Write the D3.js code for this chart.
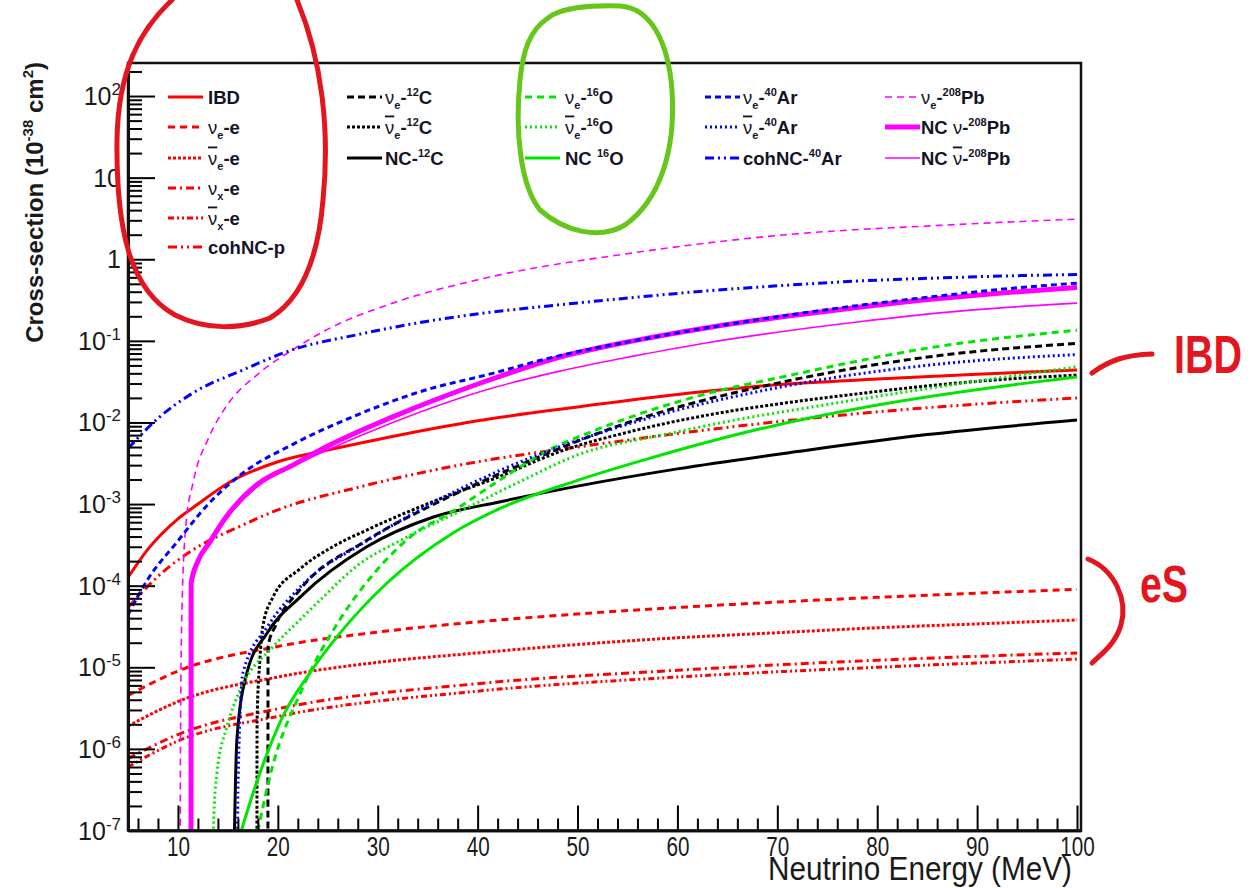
<!DOCTYPE html>
<html lang="en">
<head>
<meta charset="utf-8">
<title>Neutrino cross-sections</title>
<script src="https://cdn.jsdelivr.net/npm/d3@7"></script>
<style>
body { margin: 0; background: #fff; }
svg { display: block; font-family: "Liberation Sans", Arial, sans-serif; }
.narrow { font-family: "Liberation Sans Narrow", "Arial Narrow", "Liberation Sans", sans-serif; }
</style>
</head>
<body>
<svg width="1251" height="888"></svg>
<script>
// cross-sections in 1e-38 cm^2 vs neutrino energy in MeV
var ibd = [[5,1.26e-4],[7,2.8e-4],[10,6.6e-4],[12,1.0e-3],[15,1.8e-3],[20,3.3e-3],[25,4.6e-3],[30,6.2e-3],[40,1.05e-2],[50,1.55e-2],[60,2.2e-2],[70,2.9e-2],[80,3.4e-2],[90,3.9e-2],[100,4.4e-2]];
var nueE = [[5,4.5e-6],[10,9.0e-6],[20,1.8e-5],[30,2.7e-5],[40,3.6e-5],[50,4.5e-5],[60,5.4e-5],[70,6.3e-5],[80,7.2e-5],[90,8.1e-5],[100,9.0e-5]];
var nuebarE = [[5,1.9e-6],[10,3.8e-6],[20,7.6e-6],[30,1.15e-5],[40,1.5e-5],[50,1.9e-5],[60,2.3e-5],[70,2.65e-5],[80,3.05e-5],[90,3.4e-5],[100,3.8e-5]];
var nuxE = [[5,7.6e-7],[10,1.5e-6],[20,3.1e-6],[40,6.3e-6],[60,9.2e-6],[80,1.22e-5],[100,1.5e-5]];
var nuxbarE = [[5,6.0e-7],[10,1.25e-6],[20,2.5e-6],[40,5.1e-6],[60,7.6e-6],[80,1.0e-5],[100,1.26e-5]];
var cohP = [[5,5.4e-5],[8,1.3e-4],[12,3.0e-4],[16,5.2e-4],[20,8.5e-4],[28,1.6e-3],[40,3.3e-3],[50,5.0e-3],[65,8.7e-3],[80,1.35e-2],[100,2.0e-2]];

var c12Nue = [[19.0,1e-9],[19.02,1.8e-5],[19.8,3.3e-5],[22.2,8.9e-5],[28.9,3.6e-4],[35.5,9.8e-4],[44.2,3.0e-3],[55.6,1.05e-2],[70.9,3.2e-2],[86.2,6.6e-2],[100,9.3e-2]];
var c12Nuebar = [[17.9,1e-9],[17.92,2.2e-6],[18.2,1.23e-5],[18.5,3.2e-5],[19.5,7.2e-5],[22.2,1.6e-4],[25.5,3.0e-4],[28.9,4.8e-4],[35.5,1.07e-3],[42.3,2.2e-3],[48,4.3e-3],[55.6,7.9e-3],[63,1.23e-2],[70.9,1.74e-2],[78,2.24e-2],[86.2,2.9e-2],[93,3.4e-2],[100,3.8e-2]];
var c12NC = [[15.4,1e-9],[15.9,1.3e-6],[16.9,8.5e-6],[18.9,2.6e-5],[22.2,7.2e-5],[28.9,3.0e-4],[35.5,6.9e-4],[42.3,1.07e-3],[50,1.66e-3],[60,2.7e-3],[72,4.4e-3],[85,7.1e-3],[100,1.07e-2]];

var o16Nue = [[17.5,5e-8],[19.5,6.3e-7],[22.3,5e-6],[26.3,4e-5],[29.6,1.4e-4],[33.3,4e-4],[37.6,8.3e-4],[42.3,2.0e-3],[47,4.5e-3],[52.3,8.5e-3],[62.3,2.15e-2],[70.9,3.7e-2],[86,8.5e-2],[100,0.135]];
var o16Nuebar = [[13.35,1e-9],[13.6,1.6e-7],[13.9,5e-7],[14.9,1.86e-6],[16.2,5.2e-6],[19.5,1.78e-5],[21.9,3.5e-5],[24.2,6.6e-5],[28,1.78e-4],[32.3,3.6e-4],[39,9.1e-4],[44.3,1.9e-3],[50,4.0e-3],[59.4,7.4e-3],[64.5,1.0e-2],[75,1.66e-2],[86.7,2.8e-2],[100,4.8e-2]];
var o16NC = [[15.8,6e-8],[18,4.3e-7],[20.5,2.5e-6],[23.2,8.5e-6],[26.2,2.6e-5],[30.9,1.07e-4],[37.5,4.4e-4],[42.3,8.9e-4],[49.7,1.9e-3],[57.1,3.6e-3],[68.2,8.3e-3],[79.3,1.58e-2],[94.1,2.95e-2],[100,3.6e-2]];

var ar40Nue = [[5,4.4e-5],[7.1,1.26e-4],[9.8,3.3e-4],[13.1,1.02e-3],[16.5,2.4e-3],[21.5,5.4e-3],[28.1,1.26e-2],[34.8,2.5e-2],[40.8,3.8e-2],[48,6.5e-2],[55.6,0.1],[63,0.145],[70.9,0.205],[78,0.27],[86.2,0.355],[93,0.435],[100,0.51]];
var ar40Nuebar = [[15.9,1e-9],[16.0,3e-7],[16.5,8.5e-6],[19,3.2e-5],[22.3,9.8e-5],[29,3.6e-4],[35.6,1.05e-3],[42.3,2.6e-3],[55.6,1.0e-2],[70.9,2.8e-2],[86.2,5.2e-2],[100,6.8e-2]];
var ar40Coh = [[5,4.8e-3],[8.1,1.15e-2],[11.5,2.3e-2],[16.5,4.4e-2],[21.5,7.8e-2],[28.1,0.12],[34,0.166],[40.8,0.22],[48,0.275],[55.6,0.34],[63,0.41],[70.9,0.48],[78,0.54],[86.2,0.59],[93,0.625],[100,0.65]];

var pb208Nue = [[10.2,1e-9],[10.25,1e-6],[10.4,5e-5],[10.8,5.6e-4],[11.5,1.8e-3],[13.1,6.6e-3],[14.8,1.55e-2],[18.1,4.0e-2],[21.5,7.8e-2],[24.8,0.135],[31.5,0.29],[40.8,0.59],[55.6,1.2],[70.9,2.0],[86.2,2.6],[100,3.1]];
var pb208NCnu = [[11.3,1e-9],[11.32,1.07e-4],[12,2.0e-4],[13.1,3.3e-4],[14.8,6.9e-4],[18.1,1.8e-3],[21.5,3.0e-3],[24.8,5.0e-3],[31.5,1.17e-2],[40.8,3.2e-2],[48,6.2e-2],[55.6,0.1],[63,0.145],[70.9,0.2],[78,0.257],[86.2,0.33],[93,0.39],[100,0.45]];
var pb208NCnubar = [[11.3,1e-9],[11.32,1.02e-4],[12,1.9e-4],[13.1,3.1e-4],[14.8,6.5e-4],[18.1,1.7e-3],[21.5,2.9e-3],[24.8,4.5e-3],[31.5,1.0e-2],[40.8,2.5e-2],[48,4.2e-2],[55.6,6.5e-2],[63,9.5e-2],[70.9,0.132],[78,0.17],[86.2,0.22],[93,0.257],[100,0.29]];

// legend labels: [text, kind]  g = greek, gb = greek with bar
var labIBD = [["IBD"]];
var labNueE = [["ν","g"],["e","sub"],["-e"]];
var labNuebarE = [["ν","gb"],["e","sub"],["-e"]];
var labNuxE = [["ν","g"],["x","sub"],["-e"]];
var labNuxbarE = [["ν","gb"],["x","sub"],["-e"]];
var labCohP = [["cohNC-p"]];
var labC12Nue = [["ν","g"],["e","sub"],["-"],["12","sup"],["C"]];
var labC12Nuebar = [["ν","gb"],["e","sub"],["-"],["12","sup"],["C"]];
var labC12NC = [["NC-"],["12","sup"],["C"]];
var labO16Nue = [["ν","g"],["e","sub"],["-"],["16","sup"],["O"]];
var labO16Nuebar = [["ν","gb"],["e","sub"],["-"],["16","sup"],["O"]];
var labO16NC = [["NC "],["16","sup"],["O"]];
var labAr40Nue = [["ν","g"],["e","sub"],["-"],["40","sup"],["Ar"]];
var labAr40Nuebar = [["ν","gb"],["e","sub"],["-"],["40","sup"],["Ar"]];
var labAr40Coh = [["cohNC-"],["40","sup"],["Ar"]];
var labPb208Nue = [["ν","g"],["e","sub"],["-"],["208","sup"],["Pb"]];
var labPb208NCnu = [["NC "],["ν","g"],["-"],["208","sup"],["Pb"]];
var labPb208NCnubar = [["NC "],["ν","gb"],["-"],["208","sup"],["Pb"]];

var xTicks = [10, 20, 30, 40, 50, 60, 70, 80, 90, 100];
var yExps = [-7, -6, -5, -4, -3, -2, -1, 0, 1, 2];

var red = "#ff0000", blk = "#000000", grn = "#00e600", blu = "#0000ff", mag = "#ff00ff";

// series table: data, colour, width, dash, label, legend column, legend row
var series = [
  {d: ibd, c: red, w: 3, dash: null, lab: labIBD, col: 0, row: 0},
  {d: nueE, c: red, w: 3, dash: "7,5", lab: labNueE, col: 0, row: 1},
  {d: nuebarE, c: red, w: 3, dash: "3,2", lab: labNuebarE, col: 0, row: 2},
  {d: nuxE, c: red, w: 3, dash: "8,4,2,4", lab: labNuxE, col: 0, row: 3},
  {d: nuxbarE, c: red, w: 3, dash: "6,3,2,3,2,3", lab: labNuxbarE, col: 0, row: 4},
  {d: cohP, c: red, w: 3, dash: "9,4,2,4,2,4", lab: labCohP, col: 0, row: 5},
  {d: c12Nue, c: blk, w: 3, dash: "7,4", lab: labC12Nue, col: 1, row: 0},
  {d: c12Nuebar, c: blk, w: 3, dash: "3,2", lab: labC12Nuebar, col: 1, row: 1},
  {d: c12NC, c: blk, w: 3, dash: null, lab: labC12NC, col: 1, row: 2},
  {d: o16Nue, c: grn, w: 3, dash: "7,5", lab: labO16Nue, col: 2, row: 0},
  {d: o16Nuebar, c: grn, w: 3, dash: "2,3", lab: labO16Nuebar, col: 2, row: 1},
  {d: o16NC, c: grn, w: 3, dash: null, lab: labO16NC, col: 2, row: 2},
  {d: pb208Nue, c: mag, w: 1.6, dash: "7,5", lab: labPb208Nue, col: 4, row: 0},
  {d: pb208NCnu, c: mag, w: 5, dash: null, lab: labPb208NCnu, col: 4, row: 1},
  {d: pb208NCnubar, c: mag, w: 1.6, dash: null, lab: labPb208NCnubar, col: 4, row: 2},
  {d: ar40Nue, c: blu, w: 3, dash: "6,4", lab: labAr40Nue, col: 3, row: 0},
  {d: ar40Nuebar, c: blu, w: 3, dash: "2,3", lab: labAr40Nuebar, col: 3, row: 1},
  {d: ar40Coh, c: blu, w: 3, dash: "9,4,2,4,2,4", lab: labAr40Coh, col: 3, row: 2}
];

var svg = d3.select("svg");
var fL = 128, fR = 1081, fT = 63, fB = 830.5;

var x = d3.scaleLinear().domain([5, 100.4]).range([fL, fR]);
var y = d3.scaleLog().domain([1e-7, 254]).range([fB, fT]);

svg.append("rect").attr("width", 1251).attr("height", 888).attr("fill", "#fff");

svg.append("defs").append("clipPath").attr("id", "clip")
  .append("rect").attr("x", fL).attr("y", fT)
  .attr("width", fR - fL).attr("height", fB - fT);

var line = d3.line()
  .x(function(d) { return x(d[0]); })
  .y(function(d) { return y(d[1]); })
  .curve(d3.curveMonotoneX);

var plot = svg.append("g").attr("clip-path", "url(#clip)");
series.forEach(function(s) {
  plot.append("path")
    .attr("d", line(s.d))
    .attr("fill", "none")
    .attr("stroke", s.c)
    .attr("stroke-width", s.w)
    .attr("stroke-dasharray", s.dash);
});

// axes, ticks pointing inside
var yMajor = yExps.map(function(n) { return Math.pow(10, n); });
var yMinor = [];
yExps.forEach(function(n) {
  for (var k = 2; k <= 9; k++) {
    var v = k * Math.pow(10, n);
    if (v <= 254) yMinor.push(v);
  }
});

svg.append("g").attr("transform", "translate(" + fL + ",0)")
  .call(d3.axisLeft(y).tickValues(yMinor).tickSize(-14).tickSizeOuter(0).tickFormat(""));
svg.append("g").attr("transform", "translate(" + fL + ",0)")
  .call(d3.axisLeft(y).tickValues(yMajor).tickSize(-27).tickSizeOuter(0).tickFormat(""));

var xMinor = d3.range(6, 100, 2).filter(function(v) { return v % 10 !== 0; });
svg.append("g").attr("transform", "translate(0," + fB + ")")
  .call(d3.axisBottom(x).tickValues(xMinor).tickSize(-12).tickSizeOuter(0).tickFormat(""));
var xAxis = svg.append("g").attr("transform", "translate(0," + fB + ")")
  .call(d3.axisBottom(x).tickValues(xTicks).tickSize(-25).tickSizeOuter(0).tickPadding(6).tickFormat(d3.format("d")));
xAxis.selectAll("text")
  .attr("class", "narrow")
  .attr("font-size", 28)
  .attr("textLength", function(d) { return String(d).length * 11.5; })
  .attr("lengthAdjust", "spacingAndGlyphs")
  .attr("fill", "#1a1a1a");

svg.selectAll(".tick line").attr("stroke", "#000").attr("stroke-width", 2);
svg.selectAll(".domain").attr("stroke", "#000").attr("stroke-width", 2.5);

svg.append("rect")
  .attr("x", fL).attr("y", fT)
  .attr("width", fR - fL).attr("height", fB - fT)
  .attr("fill", "none").attr("stroke", "#111").attr("stroke-width", 2.5);

// y tick labels
yExps.forEach(function(n) {
  var t = svg.append("text")
    .attr("x", 121).attr("y", y(Math.pow(10, n)) + 9)
    .attr("text-anchor", "end")
    .attr("font-size", 25)
    .attr("fill", "#1a1a1a");
  if (n === 0) { t.text("1"); return; }
  t.append("tspan").text("10");
  if (n !== 1) {
    t.append("tspan").attr("dy", -10).attr("font-size", 17).text(String(n));
  }
});

// axis titles
var yt = svg.append("text")
  .attr("transform", "translate(43,62) rotate(-90)")
  .attr("text-anchor", "end")
  .attr("font-size", 24)
  .attr("font-weight", "bold")
  .attr("fill", "#1a1a1a");
yt.append("tspan").text("Cross-section (10");
yt.append("tspan").attr("dy", -10).attr("font-size", 15).text("-38");
yt.append("tspan").attr("dy", 10).text(" cm");
yt.append("tspan").attr("dy", -10).attr("font-size", 15).text("2");
yt.append("tspan").attr("dy", 10).text(")");

svg.append("text")
  .attr("class", "narrow")
  .attr("x", 1072).attr("y", 880)
  .attr("text-anchor", "end")
  .attr("font-size", 33)
  .attr("textLength", 304)
  .attr("lengthAdjust", "spacingAndGlyphs")
  .attr("fill", "#1a1a1a")
  .text("Neutrino Energy (MeV)");

// legend
var colSample = [168, 347, 525, 705, 885];
var colText = [208, 385, 565, 743, 921];
var rowY = [97, 127, 158, 188, 218, 247];
var leg = svg.append("g");

function addLabel(segs, x0, y0) {
  var t = leg.append("text")
    .attr("x", x0).attr("y", y0 + 6.5)
    .attr("font-size", 18.5)
    .attr("font-weight", "bold")
    .attr("fill", "#141428");
  var off = 0;
  segs.forEach(function(seg) {
    var kind = seg[1] || "n";
    var target = kind === "sub" ? 5 : (kind === "sup" ? -8 : 0);
    var ts = t.append("tspan").text(seg[0]).attr("dy", target - off);
    off = target;
    if (kind === "sub" || kind === "sup") ts.attr("font-size", 11);
    if (kind === "g" || kind === "gb") ts.attr("font-weight", "normal");
    if (kind === "gb") ts.style("text-decoration", "overline");
  });
}

series.forEach(function(s) {
  var yy = rowY[s.row];
  var x0 = colSample[s.col];
  leg.append("line")
    .attr("x1", x0).attr("x2", x0 + 35)
    .attr("y1", yy).attr("y2", yy)
    .attr("stroke", s.c)
    .attr("stroke-width", s.w)
    .attr("stroke-dasharray", s.dash);
  addLabel(s.lab, colText[s.col], yy);
});

// hand-drawn annotations on top of the plot
var pen = "#e3161f";
svg.append("path")
  .attr("d", "M172,0 C140,30 118,70 117,140 C116,230 130,290 175,315 C205,330 240,330 270,318 C300,300 318,260 323,200 C330,130 322,60 297,0")
  .attr("fill", "none").attr("stroke", pen).attr("stroke-width", 5).attr("stroke-linecap", "round");
svg.append("path")
  .attr("d", "M548,18 C560,8 590,5 620,6 C650,8 668,40 672,90 C676,150 660,200 625,225 C600,240 565,232 540,210 C520,185 515,130 520,80 C523,50 530,30 548,18")
  .attr("fill", "none").attr("stroke", "#66c61c").attr("stroke-width", 5).attr("stroke-linecap", "round");
svg.append("path")
  .attr("d", "M1092,373 C1110,360 1125,355 1152,354")
  .attr("fill", "none").attr("stroke", pen).attr("stroke-width", 5).attr("stroke-linecap", "round");
svg.append("text")
  .attr("class", "narrow")
  .attr("x", 1174).attr("y", 373)
  .attr("font-size", 54)
  .attr("font-weight", "bold")
  .attr("textLength", 68)
  .attr("lengthAdjust", "spacingAndGlyphs")
  .attr("fill", pen)
  .text("IBD");
svg.append("path")
  .attr("d", "M1088,559 C1115,570 1128,600 1121,625 C1115,645 1100,655 1092,663")
  .attr("fill", "none").attr("stroke", pen).attr("stroke-width", 5).attr("stroke-linecap", "round");
svg.append("text")
  .attr("class", "narrow")
  .attr("x", 1140).attr("y", 602)
  .attr("font-size", 52)
  .attr("font-weight", "bold")
  .attr("textLength", 48)
  .attr("lengthAdjust", "spacingAndGlyphs")
  .attr("fill", pen)
  .text("eS");
</script>
</body>
</html>
